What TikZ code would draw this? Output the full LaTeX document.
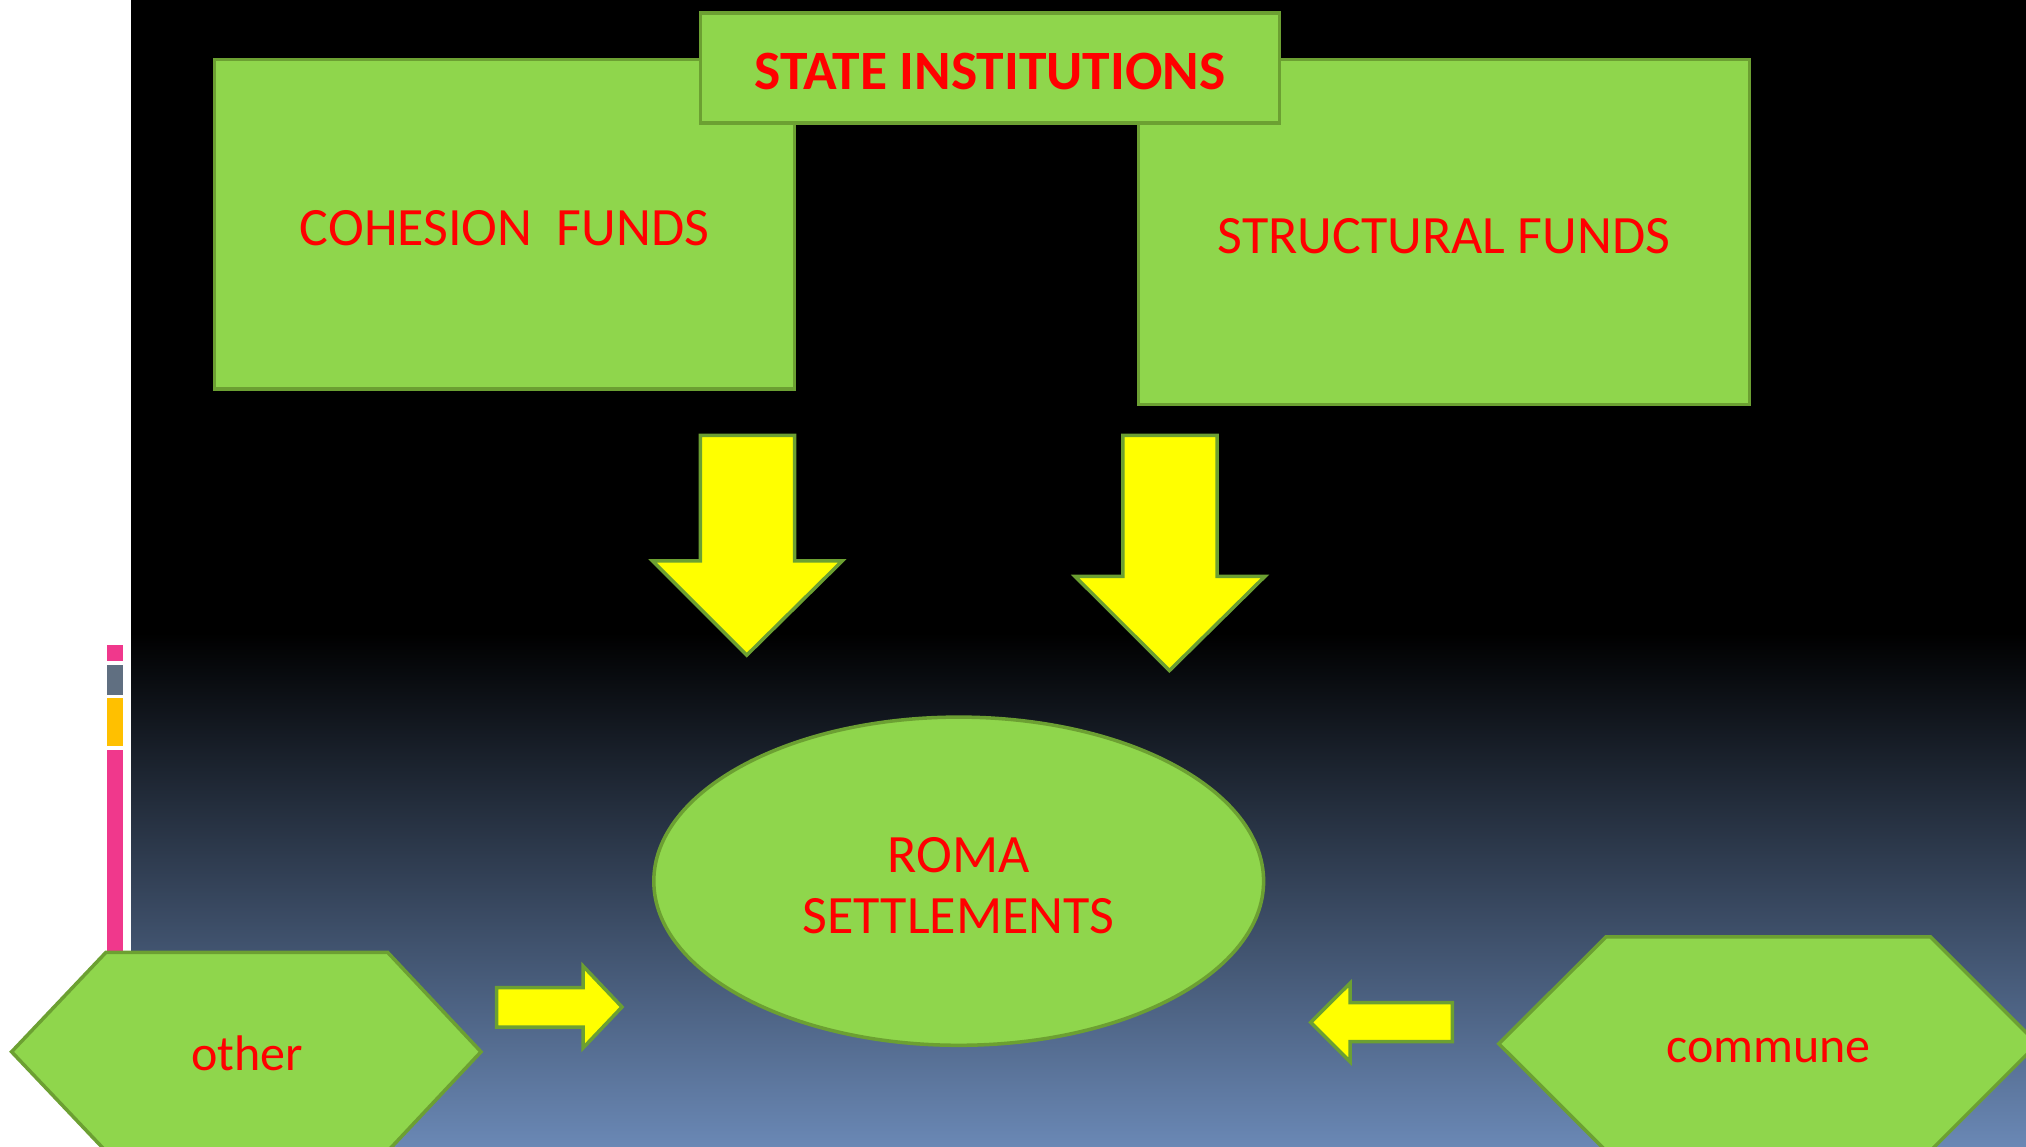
\documentclass[tikz,border=0pt]{standalone}
\usepackage{fontspec}
\setmainfont{Carlito}
\usetikzlibrary{shapes.geometric}
\definecolor{boxgreen}{RGB}{143,214,76}
\definecolor{edgegreen}{RGB}{108,160,50}
\definecolor{bgbottom}{RGB}{106,136,181}
\definecolor{barpink}{RGB}{240,56,140}
\definecolor{bargray}{RGB}{96,111,129}
\definecolor{baryellow}{RGB}{255,192,0}
\definecolor{arrowyellow}{RGB}{255,255,0}
\tikzset{
  gfill/.style={draw=edgegreen, fill=boxgreen, line width=3.5pt, inner sep=0pt},
  gbox/.style={gfill, rectangle},
  gshape/.style={draw=edgegreen, fill=boxgreen, line width=3.5pt, line join=miter},
  lbl/.style={text=red, inner sep=0pt, align=center, font=\fontsize{54}{61}\selectfont},
  hexlbl/.style={text=red, inner sep=0pt, font=\fontsize{50}{60}\selectfont},
  yarrow/.style={draw=edgegreen, fill=arrowyellow, line width=3.5pt, line join=miter},
}
\begin{document}
\begin{tikzpicture}[x=1pt,y=-1pt]
\useasboundingbox (0,0) rectangle (2026,1147);
\clip (0,0) rectangle (2026,1147);
% background
\fill[white] (0,0) rectangle (2026,1147);
\fill[black] (131,0) rectangle (2026,634);
\shade[top color=black, bottom color=bgbottom] (131,633) rectangle (2026,1147);
% side bars
\fill[barpink] (107,645) rectangle (123,661);
\fill[bargray] (107,665) rectangle (123,695);
\fill[baryellow] (107,698) rectangle (123,746);
\fill[barpink] (107,750) rectangle (123,955);
% boxes
\node[gbox, minimum width=580pt, minimum height=329.5pt] (cohesion) at (504.6,224.2) {};
\node[gbox, minimum width=611pt, minimum height=345pt] (structural) at (1443.9,231.9) {};
\node[gbox, minimum width=579pt, minimum height=110pt] (state) at (989.8,67.8) {};
\node[lbl] (cohesiontxt) at (504.6,228.3) {COHESION\hspace{0.45em}FUNDS};
\node[lbl] (structuraltxt) at (1443.9,236) {STRUCTURAL FUNDS};
\node[lbl, font=\fontsize{55.5}{61}\selectfont\bfseries] (statetxt) at (990,71.5) {STATE INSTITUTIONS};
% down arrows
\draw[yarrow] (700.3,435.4) -- (794.6,435.4) -- (794.6,560.8) -- (842.4,560.8) -- (746.8,655.1) -- (652.5,560.8) -- (700.3,560.8) -- cycle;
\draw[yarrow] (1122.8,435.4) -- (1217.2,435.4) -- (1217.2,576.3) -- (1265,576.3) -- (1169.4,670.6) -- (1075,576.3) -- (1122.8,576.3) -- cycle;
% ellipse
\node[gfill, ellipse, minimum width=609.8pt, minimum height=328.2pt] (roma) at (958.7,881.2) {};
\node[lbl] (romatxt) at (958.7,885.7) {ROMA\\SETTLEMENTS};
% hexagons
\draw[gshape] (106,952.3) -- (387.6,952.3) -- (481,1051.8) -- (387.6,1151.3) -- (106,1151.3) -- (11.6,1051.8) -- cycle;
\node[hexlbl] (other) at (247,1053.7) {other};
\draw[gshape] (1606,936.8) -- (1930.4,936.8) -- (2037.4,1043.8) -- (1930.4,1150.8) -- (1606,1150.8) -- (1498.8,1043.8) -- cycle;
\node[hexlbl] (commune) at (1768.5,1050.7) {commune};
% small arrows
\draw[yarrow] (496.5,987.5) -- (583,987.5) -- (583,966) -- (622,1007) -- (583,1048) -- (583,1027) -- (496.5,1027) -- cycle;
\draw[yarrow] (1452.3,1002.7) -- (1350,1002.7) -- (1350,983.3) -- (1310.7,1022.3) -- (1350,1061.7) -- (1350,1041.7) -- (1452.3,1041.7) -- cycle;
\end{tikzpicture}
\end{document}
